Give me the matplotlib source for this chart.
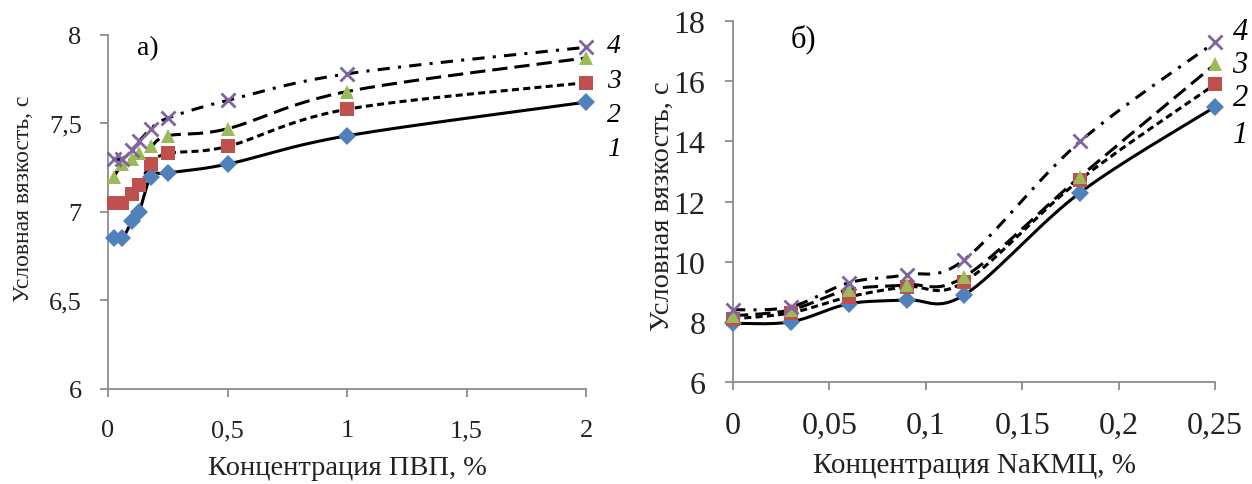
import numpy as np
import matplotlib
matplotlib.use('Agg')
import matplotlib.pyplot as plt

# data, left panel (PVP)
pvp_x = [0.025, 0.06, 0.1, 0.13, 0.18, 0.25, 0.5, 1, 2]
pvp_1 = [6.85, 6.85, 6.95, 7.0, 7.2, 7.22, 7.27, 7.43, 7.62]
pvp_2 = [7.05, 7.05, 7.1, 7.15, 7.27, 7.33, 7.37, 7.58, 7.73]
pvp_3 = [7.2, 7.27, 7.3, 7.33, 7.37, 7.43, 7.47, 7.68, 7.87]
pvp_4 = [7.3, 7.3, 7.35, 7.4, 7.47, 7.53, 7.63, 7.78, 7.93]

# data, right panel (NaCMC)
cmc_x = [0, 0.03, 0.06, 0.09, 0.12, 0.18, 0.25]
cmc_1 = [7.95, 8.0, 8.6, 8.73, 8.9, 12.3, 15.15]
cmc_2 = [8.1, 8.3, 8.83, 9.17, 9.33, 12.73, 15.9]
cmc_3 = [8.2, 8.4, 9.07, 9.23, 9.5, 12.83, 16.57]
cmc_4 = [8.4, 8.5, 9.3, 9.57, 10.07, 14.0, 17.3]

series_names = ['1', '2', '3', '4']

plt.rcParams['font.family'] = ['Liberation Serif', 'DejaVu Serif']

styles = [
    dict(ls='-', marker='D', color='#4F81BD', ms=9),
    dict(ls=(0, (2.3, 1.4)), marker='s', color='#C0504D', ms=9.5),
    dict(ls=(0, (5, 2.3)), marker='^', color='#9BBB59', ms=10.5),
    dict(ls=(0, (4, 2.7, 1, 2.7)), marker='x', color='#8064A2', ms=10),
]


def smooth(x, y, xr, yr, n=30):
    # excel-like smoothed line (bezier through points, in normalised space)
    px = (np.asarray(x, float) - xr[0]) / (xr[1] - xr[0])
    py = (np.asarray(y, float) - yr[0]) / (yr[1] - yr[0]) * 0.75
    P = np.column_stack([px, py])
    P = np.vstack([P[0], P, P[-1]])
    out = []
    for i in range(1, len(P) - 2):
        p0, p1, p2, p3 = P[i - 1], P[i], P[i + 1], P[i + 2]
        c1 = p1 + (p2 - p0) / 6
        c2 = p2 - (p3 - p1) / 6
        t = np.linspace(0, 1, n)[:, None]
        seg = ((1 - t) ** 3) * p1 + 3 * ((1 - t) ** 2) * t * c1 + 3 * (1 - t) * t ** 2 * c2 + t ** 3 * p2
        out.append(seg)
    out = np.vstack(out)
    sx = out[:, 0] * (xr[1] - xr[0]) + xr[0]
    sy = out[:, 1] / 0.75 * (yr[1] - yr[0]) + yr[0]
    return sx, sy


def draw_panel(ax, x, ys, xr, yr, fs, xpad, ypad):
    for y, st in zip(ys, styles):
        sx, sy = smooth(x, y, xr, yr)
        ax.plot(sx, sy, color='black', lw=2.2, ls=st['ls'], zorder=2)
        mew = 2 if st['marker'] == 'x' else 0
        ax.plot(x, y, ls='none', marker=st['marker'], color=st['color'],
                ms=st['ms'], mew=mew, zorder=3, clip_on=False)
    ax.set_xlim(xr)
    ax.set_ylim(yr)
    for s in ['top', 'right']:
        ax.spines[s].set_visible(False)
    for s in ['left', 'bottom']:
        ax.spines[s].set_color('#8c8c8c')
        ax.spines[s].set_linewidth(1.3)
    ax.tick_params(colors='#8c8c8c', labelcolor='#222222', labelsize=fs,
                   length=6, width=1.3, direction='out')
    ax.tick_params(axis='x', pad=xpad)
    ax.tick_params(axis='y', pad=ypad)


fig = plt.figure(figsize=(12.52, 4.85), dpi=100)

ax1 = fig.add_axes([0.0863, 0.196, 0.3818, 0.730])
draw_panel(ax1, pvp_x, [pvp_1, pvp_2, pvp_3, pvp_4], (0, 2), (6, 8), 19, 16, 13)
ax1.set_xticks([0, 0.5, 1, 1.5, 2])
ax1.set_xticklabels(['0', '0,5', '1', '1,5', '2'])
ax1.set_yticks([6, 6.5, 7, 7.5, 8])
ax1.set_yticklabels(['6', '6,5', '7', '7,5', '8'])
ax1.set_xlabel('Концентрация ПВП, %', fontsize=20.5, color='#222222')
ax1.xaxis.set_label_coords(0.5, -0.187)
ax1.set_ylabel('Условная вязкость, с', fontsize=17, color='#222222')
ax1.yaxis.set_label_coords(-0.155, 0.54)
ax1.text(0.06, 1.0, 'а)', transform=ax1.transAxes, fontsize=20, va='top')
for name, yy in zip(series_names, [7.36, 7.55, 7.74, 7.94]):
    ax1.text(1.058, (yy - 6) / 2, name, transform=ax1.transAxes, fontsize=20,
             style='italic', va='center', ha='center')

ax2 = fig.add_axes([0.5855, 0.2103, 0.385, 0.744])
draw_panel(ax2, cmc_x, [cmc_1, cmc_2, cmc_3, cmc_4], (0, 0.25), (6, 18), 23, 15, 14)
ax2.set_xticks([0, 0.05, 0.1, 0.15, 0.2, 0.25])
ax2.set_xticklabels(['0', '0,05', '0,1', '0,15', '0,2', '0,25'])
ax2.set_yticks([6, 8, 10, 12, 14, 16, 18])
ax2.set_xlabel('Концентрация NaКМЦ, %', fontsize=21, color='#222222')
ax2.xaxis.set_label_coords(0.5, -0.194)
ax2.set_ylabel('Условная вязкость, с', fontsize=20.5, color='#222222')
ax2.yaxis.set_label_coords(-0.12, 0.49)
ax2.text(0.12, 0.995, 'б)', transform=ax2.transAxes, fontsize=22, va='top')
for name, yy in zip(series_names, [14.23, 15.47, 16.57, 17.67]):
    ax2.text(1.052, (yy - 6) / 12, name, transform=ax2.transAxes, fontsize=22,
             style='italic', va='center', ha='center')

fig.savefig('out.png', dpi=100)
